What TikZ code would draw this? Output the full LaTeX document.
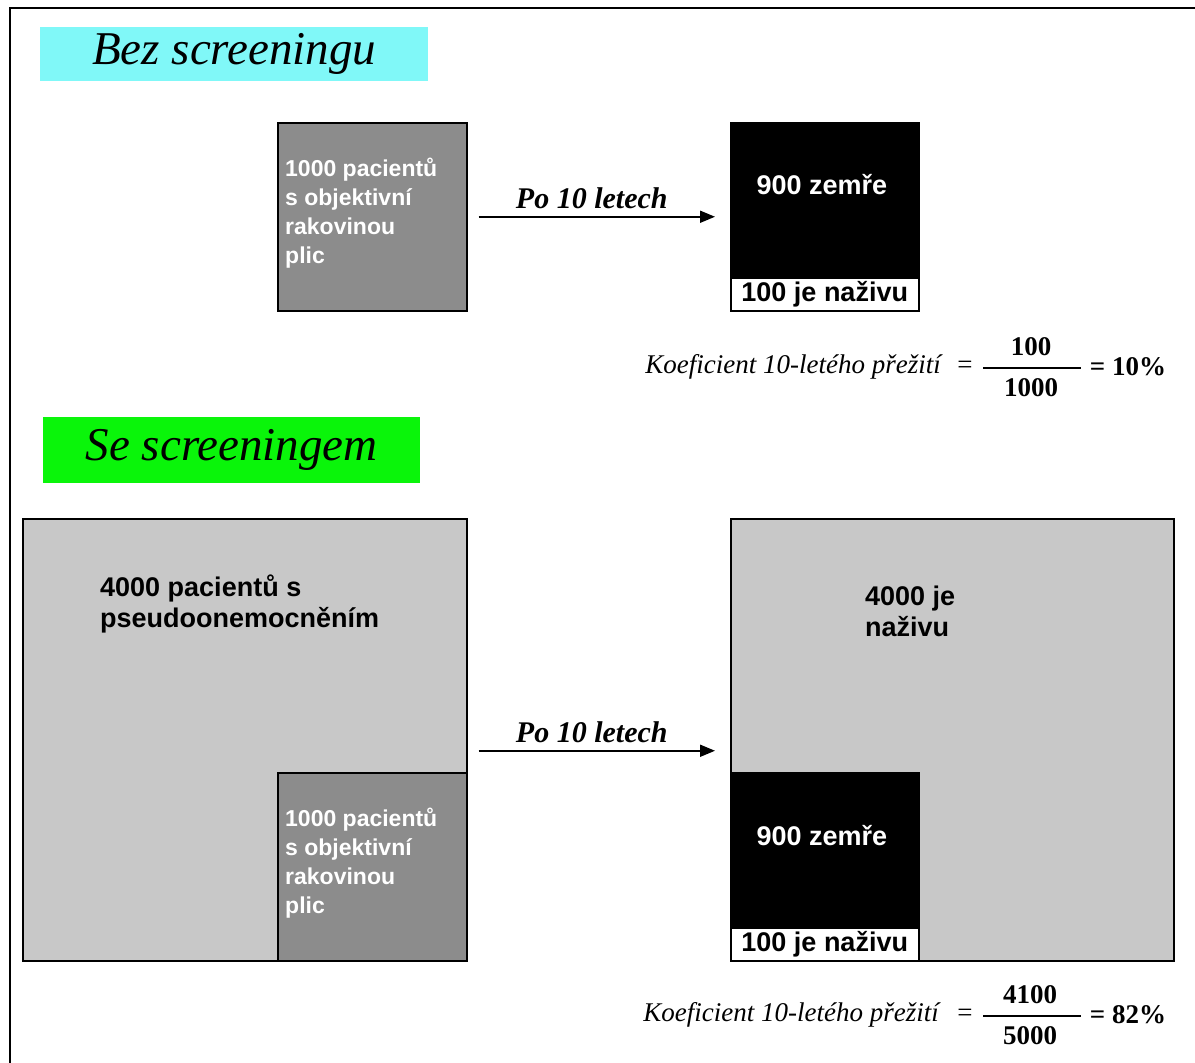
\documentclass[tikz,border=0pt]{standalone}
\usepackage{fontspec}
\setmainfont{Liberation Serif}
\setsansfont{Liberation Sans}
\usetikzlibrary{arrows.meta}
\definecolor{titlecyan}{RGB}{128,248,248}
\definecolor{titlegreen}{RGB}{10,245,10}
\definecolor{boxgray}{RGB}{140,140,140}
\definecolor{popgray}{RGB}{200,200,200}
\begin{document}
\begin{tikzpicture}[x=1pt,y=-1pt,
		titlebox/.style={anchor=north west,inner sep=0pt,font=\fontsize{47}{47}\selectfont\itshape},
		area/.style={draw,line width=1.5pt,anchor=north west,inner sep=0pt},
		patient/.style={font=\fontsize{23}{29}\selectfont\sffamily\bfseries,text=white,align=left,anchor=west,inner sep=0pt},
		count/.style={font=\fontsize{27}{31}\selectfont\sffamily\bfseries,align=left,inner sep=0pt},
		years/.style={->,>={Triangle[length=15pt,width=12pt]},line width=1.8pt,shorten <=11pt,shorten >=15pt},
		yearslabel/.style={above=7pt,xshift=-7pt,inner sep=0pt,font=\fontsize{30}{30}\selectfont\bfseries\itshape},
		rate/.style={inner sep=0pt,font=\fontsize{27}{27}\selectfont\itshape},
		ratenum/.style={inner sep=0pt,font=\fontsize{27}{27}\selectfont\bfseries},
	]
	\useasboundingbox (0,0) rectangle (1195,1063);
	\draw[line width=2pt] (10,1063) -- (10,8) -- (1195,8);

	% bez screeningu
	\node[titlebox,fill=titlecyan,minimum width=388,minimum height=54] (titleA) at (40,27) {Bez screeningu\hspace{10pt}};
	\node[area,fill=boxgray,minimum width=189,minimum height=188] (patA) at (277,122) {};
	\node[patient] (patA text) at (285,213) {1000 pacientů\\s objektivní\\rakovinou\\plic};
	\node[area,fill=black,minimum width=188,minimum height=188] (deadA) at (730,122) {};
	\node[area,count,fill=white,minimum width=188,minimum height=33,anchor=south west] (aliveA) at (deadA.south west) {100 je naživu};
	\node[count,text=white] (deadA text) at (822,185) {900 zemře};
	\draw[years] (patA) -- node[yearslabel] (yearsA) {Po 10 letech} (deadA);

	\node[rate] (koefA) at (793,367) {Koeficient 10-letého přežití};
	\node[ratenum,font=\fontsize{27}{27}\selectfont] (eqA) at (965,367) {=};
	\node[ratenum] (numA) at (1031,347) {100};
	\node[ratenum] (denA) at (1031,388) {1000};
	\draw[line width=1.2pt] (983,368) -- (1081,368);
	\node[ratenum] (resA) at (1128,367) {= 10\%};

	% se screeningem
	\node[titlebox,fill=titlegreen,minimum width=377,minimum height=66] (titleB) at (43,417) {Se screeningem};
	\node[area,fill=popgray,minimum width=444,minimum height=442] (popB) at (22,518) {};
	\node[count,anchor=west] (popB text) at (100,603.5) {4000 pacientů s\\pseudoonemocněním};
	\node[area,fill=boxgray,minimum width=189,minimum height=188] (patB) at (277,772) {};
	\node[patient] (patB text) at (285,863) {1000 pacientů\\s objektivní\\rakovinou\\plic};
	\node[area,fill=popgray,minimum width=443,minimum height=442] (liveB) at (730,518) {};
	\node[count,anchor=west] (liveB text) at (865,611.5) {4000 je\\naživu};
	\node[area,fill=black,minimum width=188,minimum height=188] (deadB) at (730,772) {};
	\node[area,count,fill=white,minimum width=188,minimum height=33,anchor=south west] (aliveB) at (deadB.south west) {100 je naživu};
	\node[count,text=white] (deadB text) at (822,836) {900 zemře};
	\draw[years] ([yshift=-11pt]popB.east) -- node[yearslabel] (yearsB) {Po 10 letech} ([yshift=-11pt]liveB.west);

	\node[rate] (koefB) at (791,1015) {Koeficient 10-letého přežití};
	\node[ratenum,font=\fontsize{27}{27}\selectfont] (eqB) at (965,1015) {=};
	\node[ratenum] (numB) at (1030,995) {4100};
	\node[ratenum] (denB) at (1030,1036) {5000};
	\draw[line width=1.2pt] (983,1016) -- (1081,1016);
	\node[ratenum] (resB) at (1128,1015) {= 82\%};
\end{tikzpicture}
\end{document}
